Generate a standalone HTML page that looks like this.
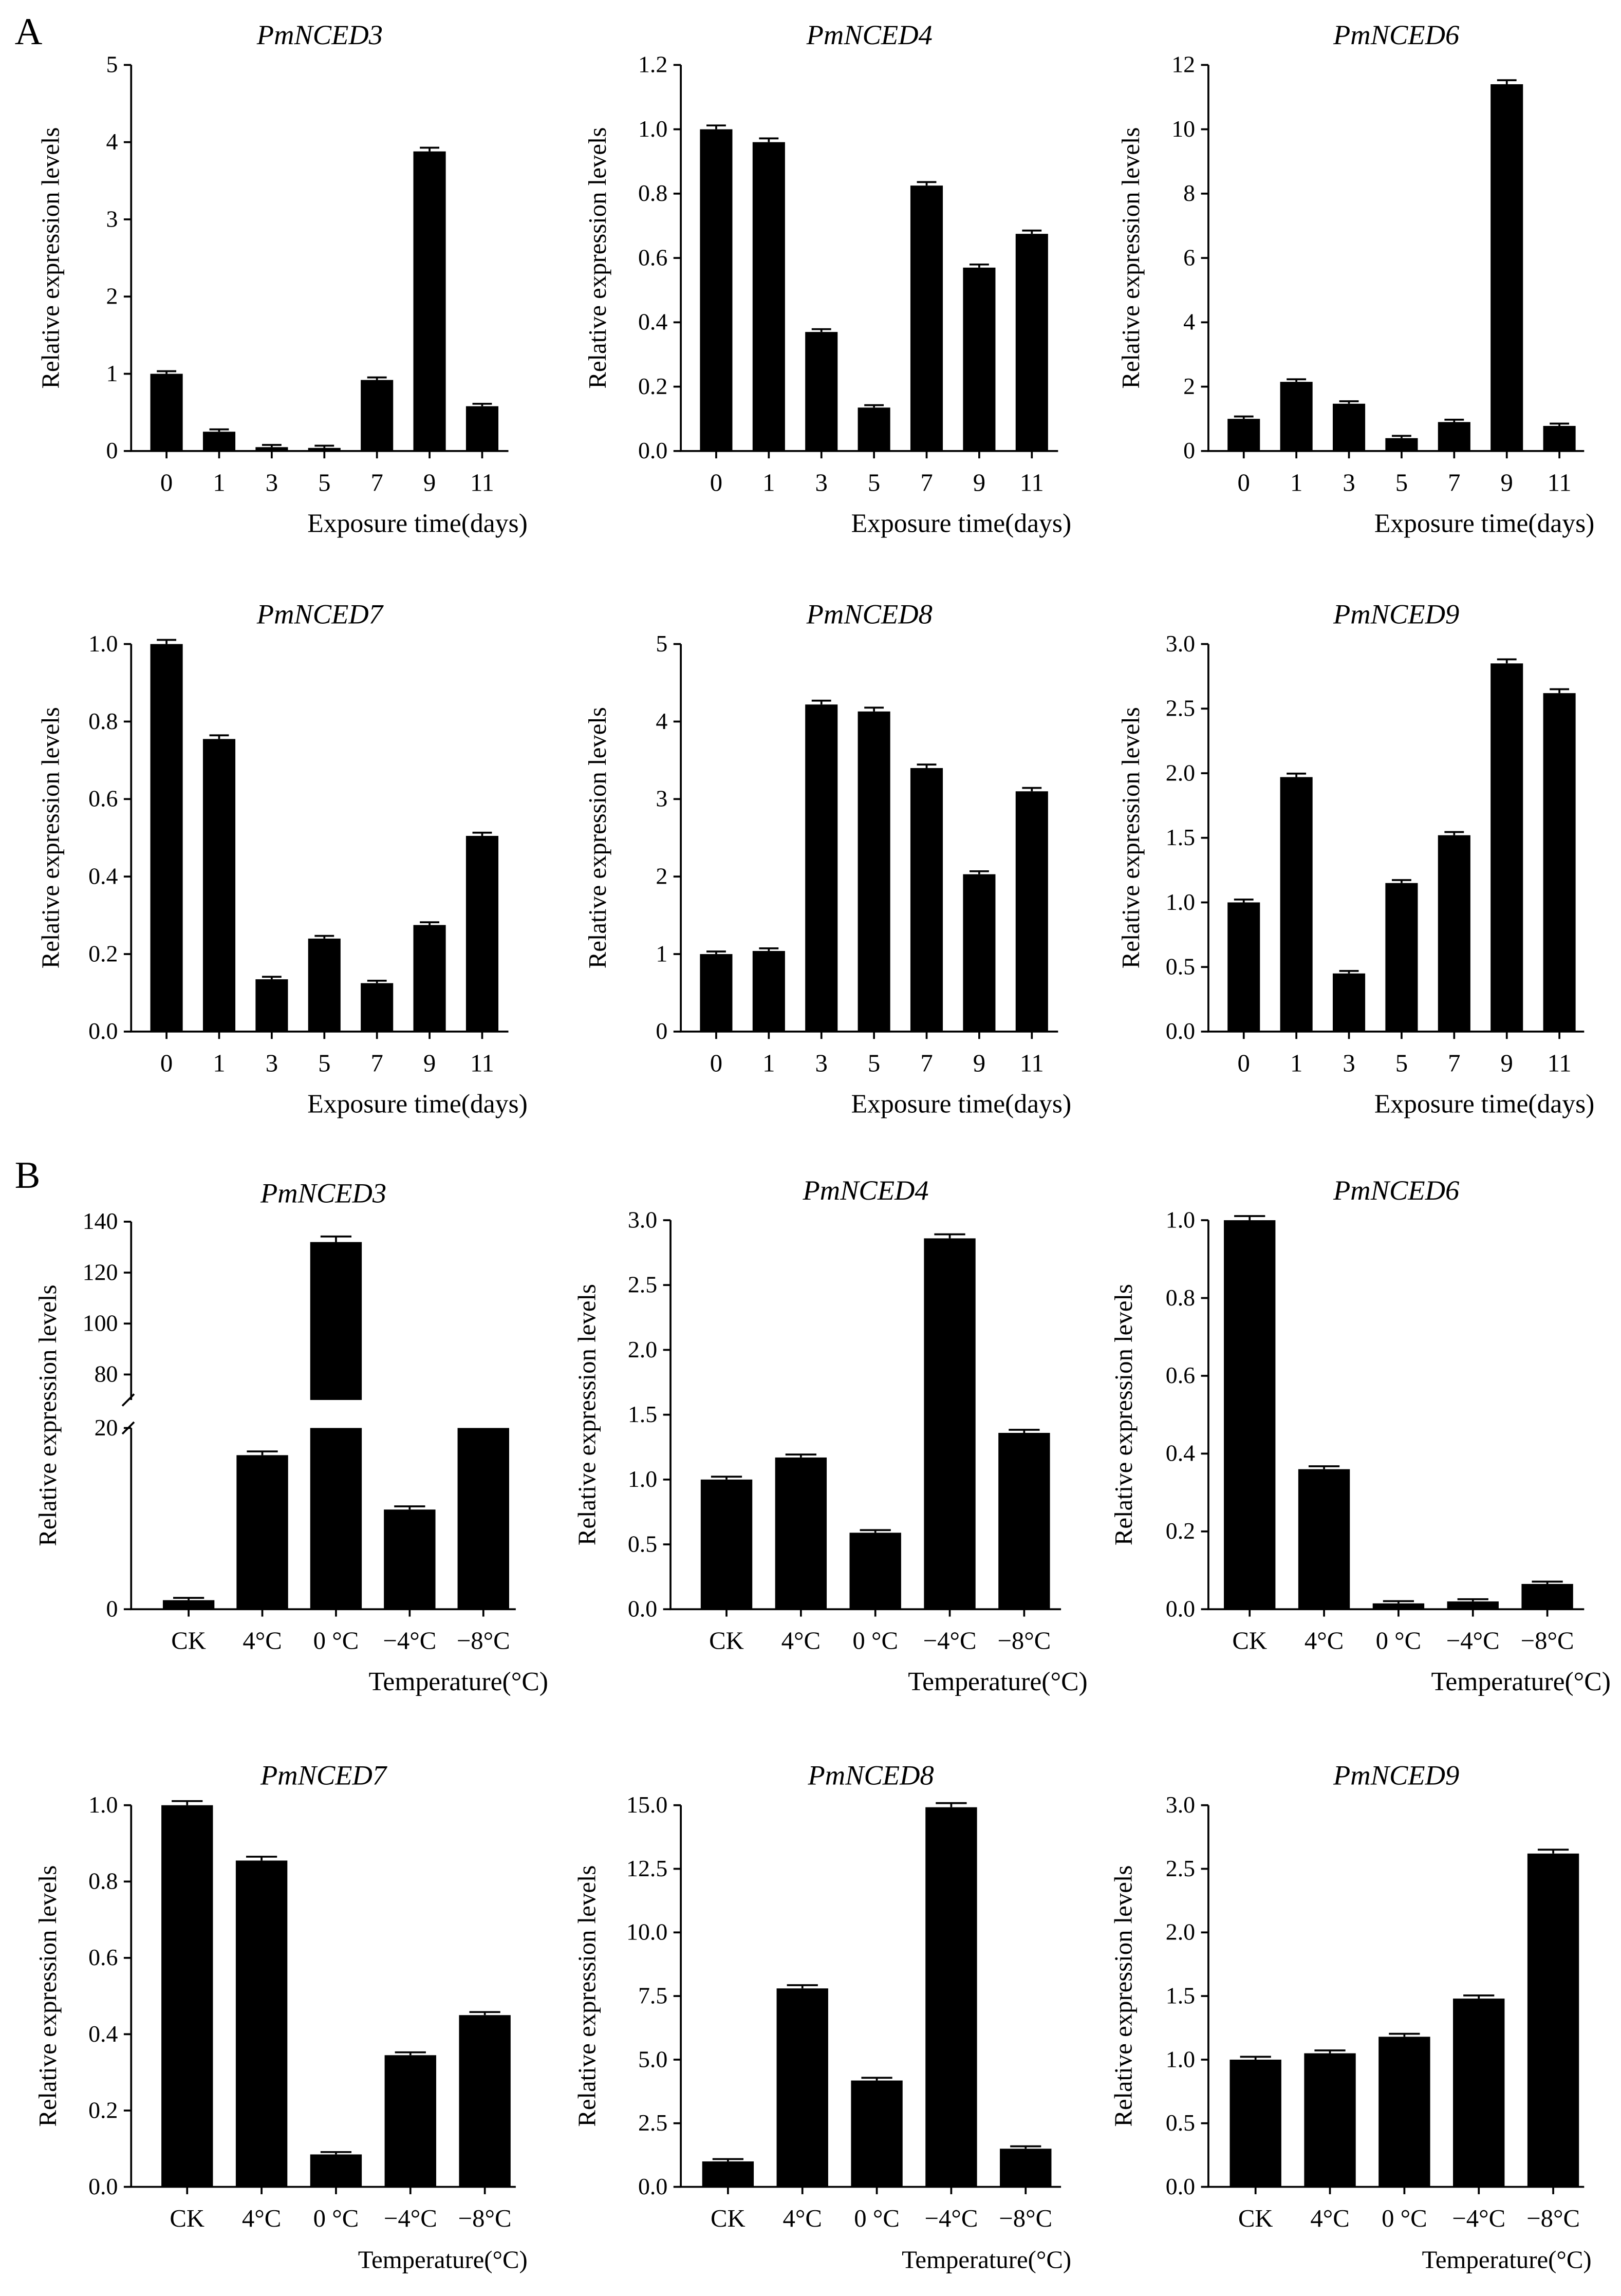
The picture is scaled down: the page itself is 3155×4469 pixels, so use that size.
<!DOCTYPE html>
<html><head><meta charset="utf-8"><style>
html,body{margin:0;padding:0;background:#fff}
svg{display:block}
text{font-family:"Liberation Serif",serif;fill:#000}
</style></head><body>
<svg id="fig" xmlns="http://www.w3.org/2000/svg" width="3155" height="4469" viewBox="0 0 1100 1558">
<rect width="1100" height="1558" fill="#fff"/>
<text x="10" y="30" font-size="26">A</text>
<text x="10" y="806" font-size="26">B</text>
</svg>
<script>
const daysCats = ["0","1","3","5","7","9","11"];
const tempCats = ["CK","4°C","0 °C","−4°C","−8°C"];
const a3Vals = [1, 0.25, 0.05, 0.04, 0.92, 3.88, 0.58];
const a4Vals = [1, 0.96, 0.37, 0.135, 0.825, 0.57, 0.675];
const a6Vals = [1, 2.15, 1.47, 0.4, 0.9, 11.4, 0.78];
const a7Vals = [1, 0.755, 0.135, 0.24, 0.125, 0.275, 0.505];
const a8Vals = [1, 1.04, 4.22, 4.13, 3.4, 2.03, 3.1];
const a9Vals = [1, 1.97, 0.45, 1.15, 1.52, 2.85, 2.62];
const b3Vals = [1, 17, 132, 11, 20];
const b4Vals = [1, 1.17, 0.59, 2.86, 1.36];
const b6Vals = [1, 0.36, 0.015, 0.02, 0.065];
const b7Vals = [1, 0.855, 0.085, 0.345, 0.45];
const b8Vals = [1, 7.8, 4.18, 14.92, 1.5];
const b9Vals = [1, 1.05, 1.18, 1.48, 2.62];
const errFrac = 0.005;
const tickA3 = ["0","1","2","3","4","5"];
const tickA4 = ["0.0","0.2","0.4","0.6","0.8","1.0","1.2"];
const tickA6 = ["0","2","4","6","8","10","12"];
const tickA7 = ["0.0","0.2","0.4","0.6","0.8","1.0"];
const tickA8 = ["0","1","2","3","4","5"];
const tickA9 = ["0.0","0.5","1.0","1.5","2.0","2.5","3.0"];
const tickB4 = ["0.0","0.5","1.0","1.5","2.0","2.5","3.0"];
const tickB6 = ["0.0","0.2","0.4","0.6","0.8","1.0"];
const tickB7 = ["0.0","0.2","0.4","0.6","0.8","1.0"];
const tickB8 = ["0.0","2.5","5.0","7.5","10.0","12.5","15.0"];
const tickB9 = ["0.0","0.5","1.0","1.5","2.0","2.5","3.0"];
const tickB3Low = ["0","20"];
const tickB3High = ["80","100","120","140"];

const svg = document.getElementById('fig');
const NS = "http://www.w3.org/2000/svg";
function mk(tag, attrs, parent){const e=document.createElementNS(NS,tag);for(const k in attrs)e.setAttribute(k,attrs[k]);(parent||svg).appendChild(e);return e;}
function txt(s, attrs, parent){const e=mk('text',attrs,parent);e.textContent=s;return e;}

function chart(o){
  const g = mk('g',{});
  
  
  const xs=i=>o.x0+o.pad+o.step*i;
  const ticks=o.ticks.map(Number);
  const max=ticks[ticks.length-1];
  const ys=v=>o.yb-(o.yb-o.yt)*v/max;
  const t=txt(o.title,{x:(o.x0+o.x1)/2,y:o.yt-14,'font-size':19,'font-style':'italic','text-anchor':'middle'},g);
  
  
  const ax=mk('path',{d:`M${o.x0},${o.yt} V${o.yb} H${o.x1}`,stroke:'#000','stroke-width':1.3,fill:'none'},g);
  
  
  o.ticks.forEach((lab,i)=>{
    const y=ys(ticks[i]);
    mk('line',{x1:o.x0-5,x2:o.x0,y1:y,y2:y,stroke:'#000','stroke-width':1.3},g);
    const tl=txt(lab,{x:o.x0-9,y:y+5,'font-size':16,'text-anchor':'end'},g);
    
    
  });
  o.cats.forEach((c,i)=>{
    const x=xs(i);
    mk('line',{x1:x,x2:x,y1:o.yb,y2:o.yb+5,stroke:'#000','stroke-width':1.3},g);
    const xl=txt(c,{x:x,y:o.yb+27,'font-size':17,'text-anchor':'middle'},g);
    
    
    const v=o.vals[i];
    const y=ys(v);
    const b=mk('rect',{x:x-o.bw/2,y:y,width:o.bw,height:o.yb-y,fill:'#000'},g);
    
    
    const ey=ys(v*(1+errFrac))-1.5;
    mk('path',{d:`M${x},${y} V${ey} M${x-o.bw*0.3},${ey} H${x+o.bw*0.3}`,stroke:'#000','stroke-width':1.3,fill:'none'},g);
  });
  const xt=txt(o.xtitle,{x:o.xtx,y:o.yb+55,'font-size':o.xfs||18,'text-anchor':'end'},g);
  
  
  const yc=(o.yt+o.yb)/2;
  const yt=txt('Relative expression levels',{x:o.ytx,y:yc,'font-size':17,'text-anchor':'middle',transform:`rotate(-90 ${o.ytx} ${yc})`},g);
  
  
}
const D='Exposure time(days)', T='Temperature(°C)';
const A={pad:24,step:35.7,bw:22}, B={pad:38,step:50.5,bw:35};
chart({...A,name:'chart-a-pmnced3',title:'PmNCED3',cats:daysCats,vals:a3Vals,ticks:tickA3,x0:89,x1:345,yt:44,yb:306,xtitle:D,xtx:358,ytx:40});
chart({...A,name:'chart-a-pmnced4',title:'PmNCED4',cats:daysCats,vals:a4Vals,ticks:tickA4,x0:462,x1:718,yt:44,yb:306,xtitle:D,xtx:727,ytx:411});
chart({...A,name:'chart-a-pmnced6',title:'PmNCED6',cats:daysCats,vals:a6Vals,ticks:tickA6,x0:820,x1:1075,yt:44,yb:306,xtitle:D,xtx:1082,ytx:773});
chart({...A,name:'chart-a-pmnced7',title:'PmNCED7',cats:daysCats,vals:a7Vals,ticks:tickA7,x0:89,x1:345,yt:437,yb:700,xtitle:D,xtx:358,ytx:40});
chart({...A,name:'chart-a-pmnced8',title:'PmNCED8',cats:daysCats,vals:a8Vals,ticks:tickA8,x0:462,x1:718,yt:437,yb:700,xtitle:D,xtx:727,ytx:411});
chart({...A,name:'chart-a-pmnced9',title:'PmNCED9',cats:daysCats,vals:a9Vals,ticks:tickA9,x0:820,x1:1075,yt:437,yb:700,xtitle:D,xtx:1082,ytx:773});
chart({...B,name:'chart-b-pmnced4',title:'PmNCED4',cats:tempCats,vals:b4Vals,ticks:tickB4,x0:455,x1:720,yt:828,yb:1092,xtitle:T,xtx:738,ytx:404});
chart({...B,name:'chart-b-pmnced6',title:'PmNCED6',cats:tempCats,vals:b6Vals,ticks:tickB6,x0:820,x1:1075,yt:828,yb:1092,pad:28,xtitle:T,xtx:1093,ytx:768});
chart({...B,name:'chart-b-pmnced7',title:'PmNCED7',cats:tempCats,vals:b7Vals,ticks:tickB7,x0:89,x1:350,yt:1225,yb:1484,xtitle:T,xtx:358,ytx:38,xfs:17});
chart({...B,name:'chart-b-pmnced8',title:'PmNCED8',cats:tempCats,vals:b8Vals,ticks:tickB8,x0:462,x1:720,yt:1225,yb:1484,pad:32,xtitle:T,xtx:727,ytx:404,xfs:17});
chart({...B,name:'chart-b-pmnced9',title:'PmNCED9',cats:tempCats,vals:b9Vals,ticks:tickB9,x0:820,x1:1075,yt:1225,yb:1484,pad:32,xtitle:T,xtx:1080,ytx:768,xfs:17});

(function(){
  const g=mk('g',{});
  
  
  const x0=89,x1=350,yb=1092,yLowTop=969,yHighBot=950,yt=829,bw=35;
  const lowMax=20, hiMin=70, hiMax=140;
  const ys=v=> v<=lowMax ? yb-(yb-yLowTop)*v/lowMax : yHighBot-(yHighBot-yt)*(v-hiMin)/(hiMax-hiMin);
  const xs=i=>x0+39+50*i;
  const t=txt('PmNCED3',{x:(x0+x1)/2,y:yt-13,'font-size':19,'font-style':'italic','text-anchor':'middle'},g);
  
  
  mk('path',{d:`M${x0},${yt} V${yHighBot} M${x0},${yLowTop} V${yb} H${x1}`,stroke:'#000','stroke-width':1.3,fill:'none'},g);
  mk('path',{d:`M${x0-6},${yHighBot+4} L${x0+2},${yHighBot-4} M${x0-6},${yLowTop+4} L${x0+2},${yLowTop-4}`,stroke:'#000','stroke-width':1.3,fill:'none'},g);
  tickB3Low.concat(tickB3High).forEach(l=>{
    const y=ys(Number(l));
    mk('line',{x1:x0-5,x2:x0,y1:y,y2:y,stroke:'#000','stroke-width':1.3},g);
    const tl=txt(l,{x:x0-9,y:y+5,'font-size':16,'text-anchor':'end'},g);
    
    
  });
  tempCats.forEach((c,i)=>{
    const x=xs(i),v=b3Vals[i];
    mk('line',{x1:x,x2:x,y1:yb,y2:yb+5,stroke:'#000','stroke-width':1.3},g);
    const xl=txt(c,{x:x,y:yb+27,'font-size':17,'text-anchor':'middle'},g);
    
    
    const b=mk('g',{},g);
    
    
    const yl=ys(Math.min(v,lowMax));
    mk('rect',{x:x-bw/2,y:yl,width:bw,height:yb-yl,fill:'#000'},b);
    let top=yl;
    if(v>lowMax){const yh=ys(v);mk('rect',{x:x-bw/2,y:yh,width:bw,height:yHighBot-yh,fill:'#000'},b);top=yh;}
    const ey=ys(v*(1+errFrac*2))-1.5;
    mk('path',{d:`M${x},${top} V${ey} M${x-bw*0.3},${ey} H${x+bw*0.3}`,stroke:'#000','stroke-width':1.3,fill:'none'},b);
  });
  const xt=txt('Temperature(°C)',{x:372,y:yb+55,'font-size':18,'text-anchor':'end'},g);
  
  
  const yc=(yt+yb)/2;
  const ytt=txt('Relative expression levels',{x:38,y:yc,'font-size':17,'text-anchor':'middle',transform:`rotate(-90 38 ${yc})`},g);
  
  
})();
</script>
</body></html>
